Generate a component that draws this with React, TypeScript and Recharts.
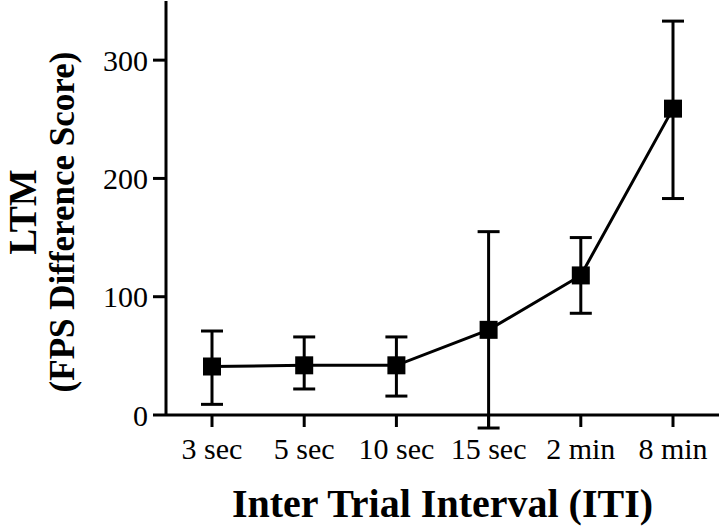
import { LineChart, Line, XAxis, YAxis, ErrorBar, Label } from 'recharts';

const intervals = ['3 sec', '5 sec', '10 sec', '15 sec', '2 min', '8 min'];
const ltmMean = [41, 42, 42, 72, 118, 259];
const ltmUpper = [71, 66, 66, 155, 150, 333];
const ltmLower = [9, 22, 16, -11, 86, 183];
const yTicks = [0, 100, 200, 300];

const data = intervals.map((name, i) => ({
  name,
  ltm: ltmMean[i],
  err: [ltmMean[i] - ltmLower[i], ltmUpper[i] - ltmMean[i]],
}));

const serif = '"Liberation Serif", "Times New Roman", serif';

function SquareDot(props: any) {
  const { cx, cy } = props;
  if (cx == null || cy == null) return null;
  return <rect x={cx - 9} y={cy - 9} width={18} height={18} fill="#000" />;
}

export default function App() {
  return (
    <div style={{ position: 'absolute', left: 0, top: 0, background: '#fff' }}>
      {/* let the 15 sec error bar run below the axis like the original */}
      <style>{'.recharts-line [clip-path]{clip-path:none !important}'}</style>
      <LineChart
        width={720}
        height={530}
        data={data}
        margin={{ top: 1, right: 1, left: 0, bottom: 0 }}
      >
        <XAxis
          dataKey="name"
          height={115}
          padding={{ left: 46, right: 46 }}
          axisLine={{ stroke: '#000', strokeWidth: 3 }}
          tickLine={{ stroke: '#000', strokeWidth: 3 }}
          tickSize={12}
          tickMargin={11}
          tick={{ fontSize: 30, fill: '#000', fontFamily: serif }}
          interval={0}
        >
          <Label
            content={({ viewBox }: any) => (
              <text
                x={viewBox.x + viewBox.width / 2}
                y={viewBox.y + 102}
                textAnchor="middle"
                fontFamily={serif}
                fontWeight="bold"
                fontSize={40}
                fill="#000"
              >
                Inter Trial Interval (ITI)
              </text>
            )}
          />
        </XAxis>
        <YAxis
          width={166}
          domain={[0, 350]}
          allowDataOverflow
          ticks={yTicks}
          axisLine={{ stroke: '#000', strokeWidth: 3 }}
          tickLine={{ stroke: '#000', strokeWidth: 3 }}
          tickSize={13}
          tickMargin={5}
          tick={{ fontSize: 30, fill: '#000', fontFamily: serif }}
        >
          <Label
            content={({ viewBox }: any) => {
              const cy = viewBox.y + viewBox.height / 2;
              return (
                <g fontFamily={serif} fontWeight="bold" fill="#000">
                  <text
                    transform={`translate(36, ${cy + 4}) rotate(-90)`}
                    textAnchor="middle"
                    fontSize={39}
                  >
                    LTM
                  </text>
                  <text
                    transform={`translate(74, ${cy + 14}) rotate(-90)`}
                    textAnchor="middle"
                    fontSize={35}
                  >
                    (FPS Difference Score)
                  </text>
                </g>
              );
            }}
          />
        </YAxis>
        <Line
          type="linear"
          dataKey="ltm"
          stroke="#000"
          strokeWidth={3}
          dot={<SquareDot />}
          activeDot={false}
          isAnimationActive={false}
        >
          <ErrorBar dataKey="err" direction="y" width={11} strokeWidth={3} stroke="#000" />
        </Line>
      </LineChart>
    </div>
  );
}
